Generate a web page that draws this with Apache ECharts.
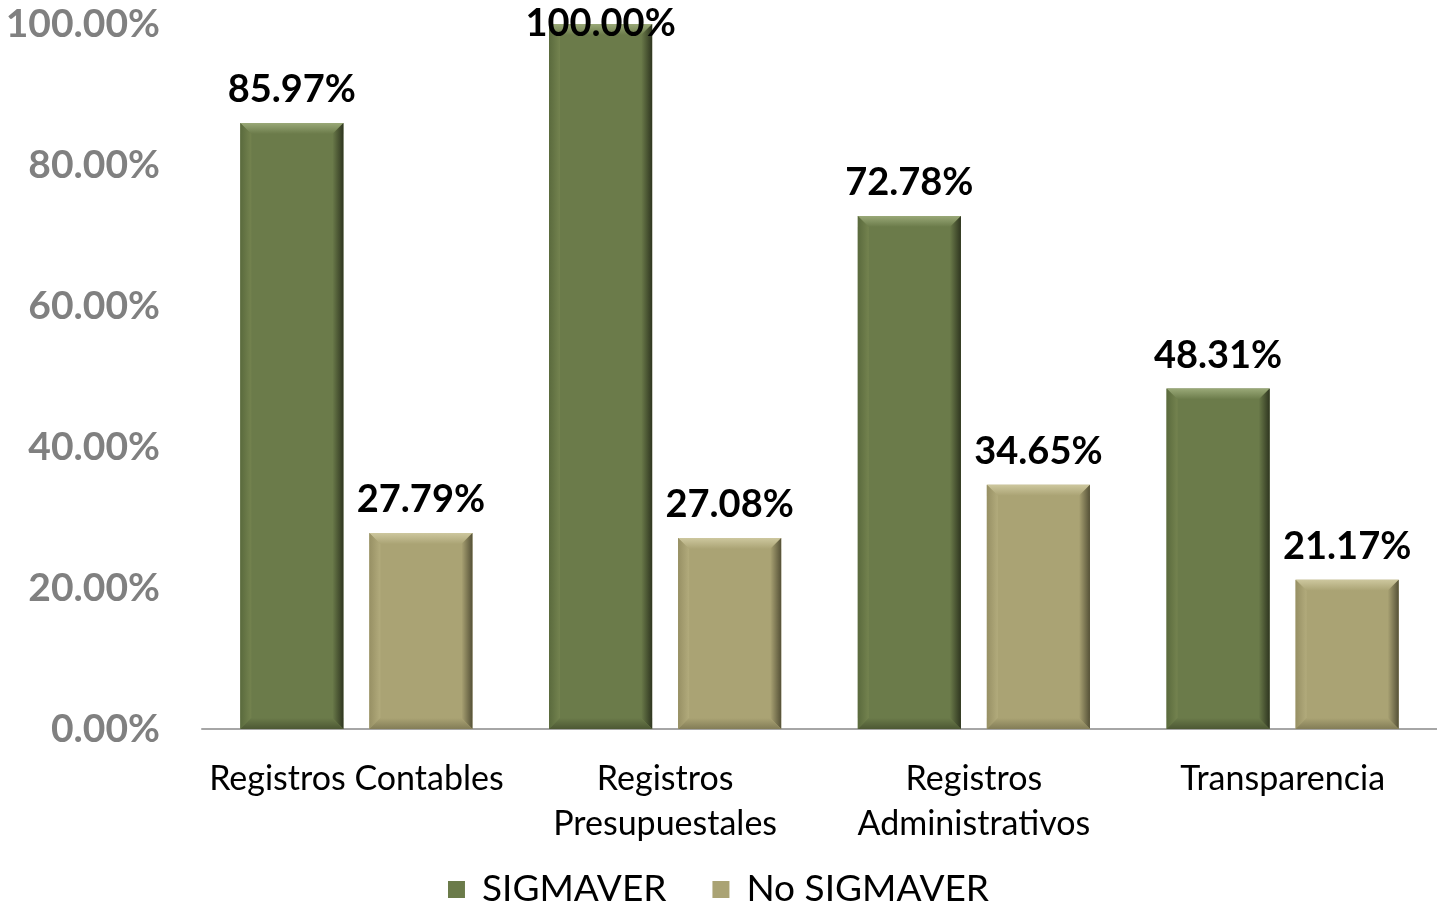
<!DOCTYPE html>
<html>
<head>
<meta charset="utf-8">
<script src="https://cdn.jsdelivr.net/npm/echarts@6/dist/echarts.min.js"></script>
<style>html,body{margin:0;padding:0;background:#fff}#c{width:1437px;height:907px}</style>
</head>
<body>
<div id="c"></div>
<script>
const categories = ['Registros Contables', 'Registros\nPresupuestales', 'Registros\nAdministrativos', 'Transparencia'];
const sigmaver = [85.97, 100.00, 72.78, 48.31];
const noSigmaver = [27.79, 27.08, 34.65, 21.17];
const yTicks = [0, 20, 40, 60, 80, 100];

const FONT = 'Lato, "Open Sans", sans-serif';
const Y_MAX = 100;
const BAR_RATIO = 0.334;     // bar width / category band
const OFFSET_RATIO = 0.209;  // bar centre offset / category band
const BEVEL = 11;

const palettes = [
  {main: '#6b7b4a', edge: '#5a6a3d', hi: '#9aa978', left: '#74834f', right: '#2f3620', bottom: '#4d5834'},
  {main: '#aaa374', edge: '#979064', hi: '#cdc79e', left: '#b2ab7c', right: '#555137', bottom: '#837d57'}
];

function lg(x, y, x2, y2, c1, c2) {
  return new echarts.graphic.LinearGradient(x, y, x2, y2, [{offset: 0, color: c1}, {offset: 1, color: c2}]);
}

function makeRender(side, pal) {
  return function (params, api) {
    const ci = api.value(0), v = api.value(1);
    const base = api.coord([ci, 0]);
    const top = api.coord([ci, v]);
    const band = api.size([1, 0])[0];
    const w = band * BAR_RATIO;
    const cx = base[0] + side * band * OFFSET_RATIO;
    const x0 = cx - w / 2, x1 = cx + w / 2, y0 = top[1], y1 = base[1];
    const b = Math.min(BEVEL, (y1 - y0) / 2);
    const labelY = v >= Y_MAX ? y0 + 19 : y0 - 14;
    return {
      type: 'group',
      children: [
        {type: 'rect', shape: {x: x0, y: y0, width: w, height: y1 - y0}, style: {fill: pal.main}},
        {type: 'polygon', shape: {points: [[x0, y0], [x1, y0], [x1 - b, y0 + b], [x0 + b, y0 + b]]},
          style: {fill: lg(0, 0, 0, 1, pal.hi, pal.main)}},
        {type: 'polygon', shape: {points: [[x0, y0], [x0 + b, y0 + b], [x0 + b, y1 - b], [x0, y1]]},
          style: {fill: lg(0, 0, 1, 0, pal.edge, pal.left)}},
        {type: 'polygon', shape: {points: [[x1, y0], [x1, y1], [x1 - b, y1 - b], [x1 - b, y0 + b]]},
          style: {fill: lg(0, 0, 1, 0, pal.main, pal.right)}},
        {type: 'polygon', shape: {points: [[x0, y1], [x0 + b, y1 - b], [x1 - b, y1 - b], [x1, y1]]},
          style: {fill: lg(0, 0, 0, 1, pal.main, pal.bottom)}},
        {type: 'text', x: cx, y: labelY,
          style: {text: v.toFixed(2) + '%', fill: '#000', font: 'bold 38px ' + FONT, align: 'center', verticalAlign: 'bottom'}}
      ]
    };
  };
}

const chart = echarts.init(document.getElementById('c'));
chart.setOption({
  animation: false,
  textStyle: {fontFamily: FONT},
  grid: {left: 202, right: 0, top: 24, bottom: 178},
  legend: {
    bottom: -6, itemWidth: 17, itemHeight: 17, itemGap: 46,
    textStyle: {fontSize: 37, color: '#000', fontFamily: FONT, padding: [0, 0, 0, 12]},
    data: [{name: 'SIGMAVER', icon: 'rect'}, {name: 'No SIGMAVER', icon: 'rect'}]
  },
  xAxis: {
    type: 'category', data: categories,
    axisLine: {lineStyle: {color: '#a6a6a6', width: 2}},
    axisTick: {show: false},
    axisLabel: {interval: 0, fontSize: 34, color: '#000', lineHeight: 45, margin: 28, fontFamily: FONT}
  },
  yAxis: {
    type: 'value', min: 0, max: Y_MAX, interval: 20,
    splitLine: {show: false},
    axisLine: {show: false}, axisTick: {show: false},
    axisLabel: {fontSize: 39, fontWeight: 'bold', color: '#808080', margin: 42, fontFamily: FONT,
      formatter: v => yTicks.includes(v) ? v.toFixed(2) + '%' : ''}
  },
  series: [
    {
      name: 'SIGMAVER', type: 'custom', clip: false, z: 3,
      itemStyle: {color: palettes[0].main},
      data: sigmaver.map((v, i) => [i, v]),
      encode: {x: 0, y: 1},
      renderItem: makeRender(-1, palettes[0])
    },
    {
      name: 'No SIGMAVER', type: 'custom', clip: false, z: 3,
      itemStyle: {color: palettes[1].main},
      data: noSigmaver.map((v, i) => [i, v]),
      encode: {x: 0, y: 1},
      renderItem: makeRender(1, palettes[1])
    }
  ]
});
</script>
</body>
</html>
